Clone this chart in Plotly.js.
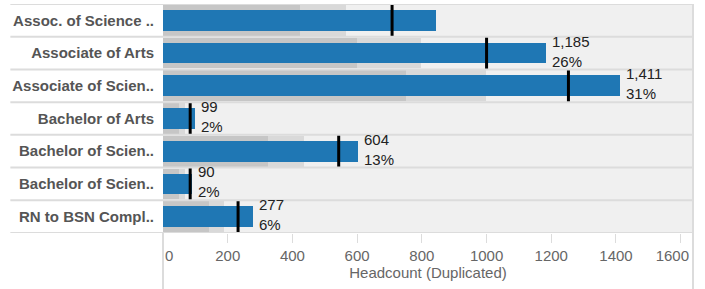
<!DOCTYPE html>
<html>
<head>
<meta charset="utf-8">
<script src="https://cdn.plot.ly/plotly-3.0.1.min.js"></script>
<style>
  html, body { margin: 0; padding: 0; background: #ffffff; }
  #chart { width: 705px; height: 289px; }
</style>
</head>
<body>
<div id="chart"></div>
<script>
// ---- data ----
const categories = ["Assoc. of Science ..", "Associate of Arts", "Associate of Scien..", "Bachelor of Arts", "Bachelor of Scien..", "Bachelor of Scien..", "RN to BSN Compl.."];
const headcount = [843, 1185, 1411, 99, 604, 90, 277];
const shareLabels = ["18%", "26%", "31%", "2%", "13%", "2%", "6%"];
const countLabels = ["843", "1,185", "1,411", "99", "604", "90", "277"];
const showLabel = [false, true, true, true, true, true, true];
const target = [708, 1000, 1253, 84, 543, 84, 232];
const band60 = [422, 600, 750, 50, 326, 50, 141];
const band80 = [565, 798, 999, 67, 435, 67, 188];
const xTicks = [0, 200, 400, 600, 800, 1000, 1200, 1400, 1600];
const xTickText = ["\u00a0\u00a0\u00a00", "200", "400", "600", "800", "1000", "1200", "1400", "1600\u00a0\u00a0\u00a0\u00a0"];

const rows = categories.map((_, i) => i);
const FONT = '"Liberation Sans", Arial, sans-serif';

// reference (target) lines as vertical segments spanning each row
const refX = [], refY = [];
rows.forEach(i => {
  refX.push(target[i], target[i], null);
  refY.push(i - 0.5, i + 0.5, null);
});

const traces = [
  { type: 'bar', orientation: 'h', y: rows, x: band80, width: 0.94,
    marker: { color: '#d9d9d9' }, hoverinfo: 'skip' },
  { type: 'bar', orientation: 'h', y: rows, x: band60, width: 0.94,
    marker: { color: '#c6c6c6' }, hoverinfo: 'skip' },
  { type: 'bar', orientation: 'h', y: rows, x: headcount, width: 0.63,
    marker: { color: '#1f77b4' }, hoverinfo: 'skip' },
  { type: 'scatter', mode: 'lines', x: refX, y: refY,
    line: { color: '#000000', width: 3 }, hoverinfo: 'skip', connectgaps: false }
];

const annotations = [];
rows.forEach(i => {
  if (!showLabel[i]) return;
  annotations.push({
    x: headcount[i], y: i, xref: 'x', yref: 'y',
    text: countLabels[i] + '<br>' + shareLabels[i],
    showarrow: false, xanchor: 'left', yanchor: 'middle', align: 'left',
    xshift: 4, yshift: 2, font: { family: FONT, size: 15, color: '#222' }
  });
});

const shapes = [];
// row separators (extend into the label area)
for (let k = 0; k <= categories.length; k++) {
  shapes.push({ type: 'line', xref: 'paper', yref: 'y', x0: -0.288, x1: 1, y0: k - 0.5, y1: k - 0.5,
    line: { color: '#dcdcdc', width: 2 }, layer: 'above' });
}
// left divider below plot, right border
shapes.push({ type: 'line', xref: 'paper', yref: 'paper', x0: 0, x1: 0, y0: -0.26, y1: 0,
  line: { color: '#dcdcdc', width: 2 } });
shapes.push({ type: 'line', xref: 'paper', yref: 'paper', x0: 1, x1: 1, y0: -0.26, y1: 1,
  line: { color: '#dcdcdc', width: 2 } });

const layout = {
  width: 705, height: 289,
  margin: { l: 163, r: 12, t: 4, b: 56, pad: 0 },
  paper_bgcolor: '#ffffff', plot_bgcolor: '#f0f0f0',
  barmode: 'overlay', bargap: 0,
  showlegend: false,
  font: { family: FONT, color: '#666' },
  xaxis: {
    range: [0, 1638], tickvals: xTicks, ticktext: xTickText,
    ticks: 'outside', ticklen: 9, tickcolor: '#dcdcdc', tickwidth: 1,
    ticklabelstandoff: 0, ticklabeloverflow: 'allow',
    showgrid: false, zeroline: false, showline: false,
    tickfont: { family: FONT, size: 15, color: '#666' },
    title: { text: 'Headcount (Duplicated)', font: { family: FONT, size: 15, color: '#666' }, standoff: 4 }
  },
  yaxis: {
    range: [6.5, -0.5], tickvals: rows, ticktext: categories,
    showgrid: false, zeroline: false, showline: false, ticks: '',
    ticklabelstandoff: 8,
    tickfont: { family: FONT, size: 15, color: '#555', weight: 'bold' }
  },
  shapes: shapes,
  annotations: annotations
};

Plotly.newPlot('chart', traces, layout, { displayModeBar: false, staticPlot: true });
</script>
</body>
</html>
